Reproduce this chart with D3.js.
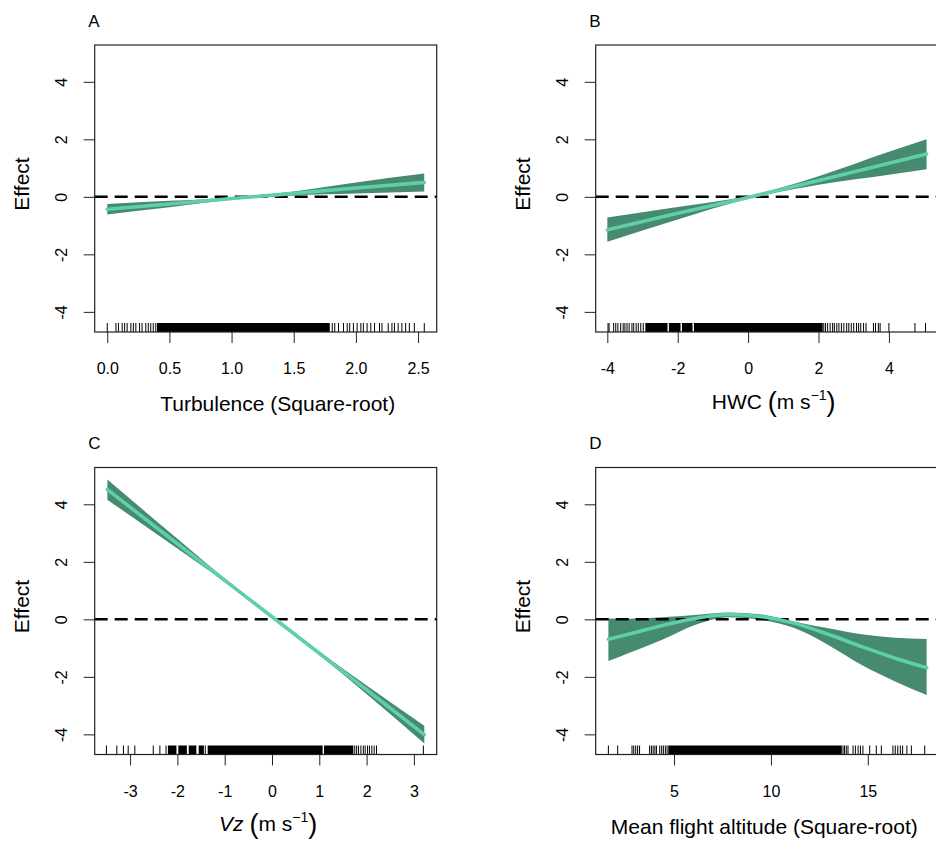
<!DOCTYPE html>
<html>
<head>
<meta charset="utf-8">
<script src="https://cdn.jsdelivr.net/npm/d3@7"></script>
<style>
  body { margin: 0; background: #fff; }
  svg { display: block; font-family: "Liberation Sans", Arial, sans-serif; }
</style>
</head>
<body>
<div id="chart"></div>
<script>
// ---- data ----
const yTicks = [-4, -2, 0, 2, 4];

// A: turbulence
const turbX     = [0.00, 0.50, 1.00, 1.50, 2.00, 2.55];
const turbFit   = [-0.43, -0.25, -0.06, 0.12, 0.31, 0.50];
const turbUpper = [-0.25, -0.14, -0.02, 0.19, 0.50, 0.81];
const turbLower = [-0.61, -0.36, -0.10, 0.05, 0.12, 0.19];
const turbTicks = [0, 0.5, 1, 1.5, 2, 2.5];
const turbRug = [0.00, 0.07, 0.09, 0.12, 0.14, 0.16, 0.19, 0.21, 0.23, 0.26, 0.28, 0.31, 0.33, 0.35,
  0.37, 0.39, 1.81, 1.83, 1.86, 1.90, 1.93, 1.95, 1.98, 2.01, 2.04, 2.06, 2.09, 2.12, 2.15, 2.19,
  2.21, 2.26, 2.29, 2.31, 2.34, 2.37, 2.40, 2.43, 2.47, 2.55];
const turbRugSolid = [[0.40, 1.79]];

// B: HWC
const hwcX     = [-4.00, -2.00, 0.00, 2.00, 4.00, 5.07];
const hwcFit   = [-1.15, -0.57, -0.02, 0.57, 1.17, 1.49];
const hwcUpper = [-0.72, -0.35, 0.03, 0.72, 1.57, 2.00];
const hwcLower = [-1.56, -0.79, -0.07, 0.42, 0.77, 0.96];
const hwcTicks = [-4, -2, 0, 2, 4];
const hwcRug = [-3.98, -3.95, -3.82, -3.76, -3.70, -3.62, -3.55, -3.50, -3.44, -3.38, -3.30, -3.25,
  -3.18, -3.12, -3.05, -2.98, 2.15, 2.20, 2.26, 2.33, 2.40, 2.45, 2.52, 2.58, 2.65, 2.72, 2.80, 2.86,
  2.93, 3.00, 3.08, 3.14, 3.20, 3.28, 3.35, 3.56, 3.62, 3.70, 3.75, 4.00, 4.74, 5.04];
const hwcRugSolid = [[-2.92, -2.29], [-2.25, -1.92], [-1.88, -1.58], [-1.54, 2.12]];

// C: Vz
const vzX     = [-3.48, -2.00, -1.00, 0.00, 1.00, 2.00, 3.22];
const vzFit   = [4.51, 2.63, 1.36, 0.09, -1.18, -2.45, -4.01];
const vzUpper = [4.86, 2.80, 1.42, 0.12, -1.12, -2.30, -3.70];
const vzLower = [4.16, 2.46, 1.30, 0.06, -1.24, -2.60, -4.32];
const vzTicks = [-3, -2, -1, 0, 1, 2, 3];
const vzRug = [-3.50, -3.28, -3.14, -3.04, -2.90, -2.51, -2.37, -2.24, -1.41, 1.75, 1.79, 1.83,
  1.88, 1.93, 1.97, 2.02, 2.06, 2.11, 2.16, 2.21, 3.20];
const vzRugSolid = [[-2.20, -2.02], [-1.98, -1.80], [-1.76, -1.60], [-1.55, -1.44], [-1.36, 1.07], [1.10, 1.72]];

// D: mean flight altitude
const altX     = [1.61, 2.64, 4.36, 6.08, 7.80, 9.52, 11.24, 12.96, 14.69, 16.41, 18.04];
const altFit   = [-0.69, -0.52, -0.22, 0.03, 0.17, 0.09, -0.14, -0.52, -0.95, -1.35, -1.68];
const altUpper = [0.03, 0.02, 0.07, 0.15, 0.24, 0.17, -0.08, -0.31, -0.52, -0.64, -0.68];
const altLower = [-1.45, -1.18, -0.72, -0.20, 0.07, -0.02, -0.31, -0.89, -1.59, -2.16, -2.63];
const altTicks = [5, 10, 15];
const altRug = [1.61, 2.09, 2.83, 2.92, 3.02, 3.12, 3.22, 3.74, 3.83, 3.92, 4.01, 4.09, 4.26, 4.36,
  4.45, 4.55, 4.64, 13.72, 13.80, 13.89, 13.98, 14.24, 14.36, 14.50, 14.62, 14.75, 15.10, 15.44,
  15.70, 16.30, 16.42, 16.55, 16.68, 16.80, 17.02, 17.25, 17.94];
const altRugSolid = [[4.70, 13.66]];

// ---- layout ----
const W = 936, H = 841;
const boxW = 342, boxH = 287;
const bandColor = "#468a70";
const lineColor = "#5fcfa7";
const ink = "#222";

const panels = [
  { letter: "A", left: 94.7, top: 45, xDomain: [-0.101, 2.65], ticks: turbTicks, fmt: d => d.toFixed(1),
    x: turbX, fit: turbFit, upper: turbUpper, lower: turbLower, rug: turbRug, rugSolid: turbRugSolid,
    label: "Turbulence (Square-root)", labelDx: 12, unit: null },
  { letter: "B", left: 595.7, top: 45, xDomain: [-4.33, 5.386], ticks: hwcTicks, fmt: d => String(d),
    x: hwcX, fit: hwcFit, upper: hwcUpper, lower: hwcLower, rug: hwcRug, rugSolid: hwcRugSolid,
    label: "HWC", labelDx: 7, unit: "m s", italic: false },
  { letter: "C", left: 94.7, top: 467.5, xDomain: [-3.748, 3.482], ticks: vzTicks, fmt: d => String(d),
    x: vzX, fit: vzFit, upper: vzUpper, lower: vzLower, rug: vzRug, rugSolid: vzRugSolid,
    label: "Vz", labelDx: 2.5, unit: "m s", italic: true },
  { letter: "D", left: 595.7, top: 467.5, xDomain: [0.955, 18.61], ticks: altTicks, fmt: d => String(d),
    x: altX, fit: altFit, upper: altUpper, lower: altLower, rug: altRug, rugSolid: altRugSolid,
    label: "Mean flight altitude (Square-root)", labelDx: -2.4, unit: null }
];

const svg = d3.select("#chart").append("svg")
  .attr("width", W)
  .attr("height", H);

svg.append("rect").attr("width", W).attr("height", H).attr("fill", "#fff");

panels.forEach(p => {
  const x = d3.scaleLinear().domain(p.xDomain).range([p.left, p.left + boxW]);
  const y = d3.scaleLinear().domain([-4.70, 5.28]).range([p.top + boxH, p.top]);
  const bottom = p.top + boxH;

  const rows = p.x.map((v, i) => ({ x: v, fit: p.fit[i], upper: p.upper[i], lower: p.lower[i] }));

  // confidence band
  svg.append("path")
    .datum(rows)
    .attr("fill", bandColor)
    .attr("d", d3.area()
      .x(d => x(d.x))
      .y0(d => y(d.lower))
      .y1(d => y(d.upper))
      .curve(d3.curveMonotoneX));

  // zero reference
  svg.append("line")
    .attr("x1", p.left).attr("x2", p.left + boxW)
    .attr("y1", y(0)).attr("y2", y(0))
    .attr("stroke", "#000")
    .attr("stroke-width", 2.5)
    .attr("stroke-dasharray", "13,7");

  // fitted effect
  svg.append("path")
    .datum(rows)
    .attr("fill", "none")
    .attr("stroke", lineColor)
    .attr("stroke-width", 3.6)
    .attr("stroke-linecap", "round")
    .attr("d", d3.line()
      .x(d => x(d.x))
      .y(d => y(d.fit))
      .curve(d3.curveMonotoneX));

  // rug
  svg.append("g")
    .selectAll("rect")
    .data(p.rugSolid)
    .join("rect")
      .attr("x", d => x(d[0]))
      .attr("width", d => x(d[1]) - x(d[0]))
      .attr("y", bottom - 9)
      .attr("height", 9)
      .attr("fill", "#000");

  svg.append("g")
    .selectAll("line")
    .data(p.rug)
    .join("line")
      .attr("x1", d => x(d)).attr("x2", d => x(d))
      .attr("y1", bottom - 9).attr("y2", bottom)
      .attr("stroke", "#000")
      .attr("stroke-width", 1);

  // axes
  const gx = svg.append("g")
    .attr("transform", `translate(0,${bottom})`)
    .style("color", ink)
    .call(d3.axisBottom(x).tickValues(p.ticks).tickFormat(p.fmt).tickSize(11).tickSizeOuter(0).tickPadding(20));
  gx.select(".domain").remove();
  gx.selectAll("text").attr("font-size", 16).attr("font-family", null).attr("fill", "#000");

  const gy = svg.append("g")
    .attr("transform", `translate(${p.left},0)`)
    .style("color", ink)
    .call(d3.axisLeft(y).tickValues(yTicks).tickFormat(d => String(d)).tickSize(11).tickSizeOuter(0));
  gy.select(".domain").remove();
  gy.selectAll("text")
    .attr("x", 0).attr("y", -27.3).attr("dy", null)
    .attr("transform", "rotate(-90)")
    .attr("text-anchor", "middle")
    .attr("font-size", 16).attr("font-family", null).attr("fill", "#000");

  // frame
  svg.append("rect")
    .attr("x", p.left).attr("y", p.top)
    .attr("width", boxW).attr("height", boxH)
    .attr("fill", "none")
    .attr("stroke", ink)
    .attr("stroke-width", 1.2);

  // panel letter
  svg.append("text")
    .attr("x", p.left - 6.5).attr("y", p.top - 18.3)
    .attr("font-size", 17)
    .text(p.letter);

  // y label
  svg.append("text")
    .attr("transform", `translate(${p.left - 65.5},${p.top + 139}) rotate(-90)`)
    .attr("text-anchor", "middle")
    .attr("font-size", 21)
    .text("Effect");

  // x label
  const cx = p.left + boxW / 2 + p.labelDx;
  if (!p.unit) {
    svg.append("text")
      .attr("x", cx).attr("y", bottom + 79.4)
      .attr("text-anchor", "middle")
      .attr("font-size", 21)
      .text(p.label);
  } else {
    const t = svg.append("text")
      .attr("x", cx).attr("y", bottom + 76.7)
      .attr("text-anchor", "middle")
      .attr("font-size", 21);
    t.append("tspan").attr("font-style", p.italic ? "italic" : null).text(p.label);
    t.append("tspan").text(" ");
    t.append("tspan").attr("font-size", 27).attr("dy", 2).text("(");
    t.append("tspan").attr("dy", -2).text(p.unit);
    t.append("tspan").attr("font-size", 14).attr("dy", -9).text("\u22121");
    t.append("tspan").attr("font-size", 27).attr("dy", 11).text(")");
  }
});
</script>
</body>
</html>
